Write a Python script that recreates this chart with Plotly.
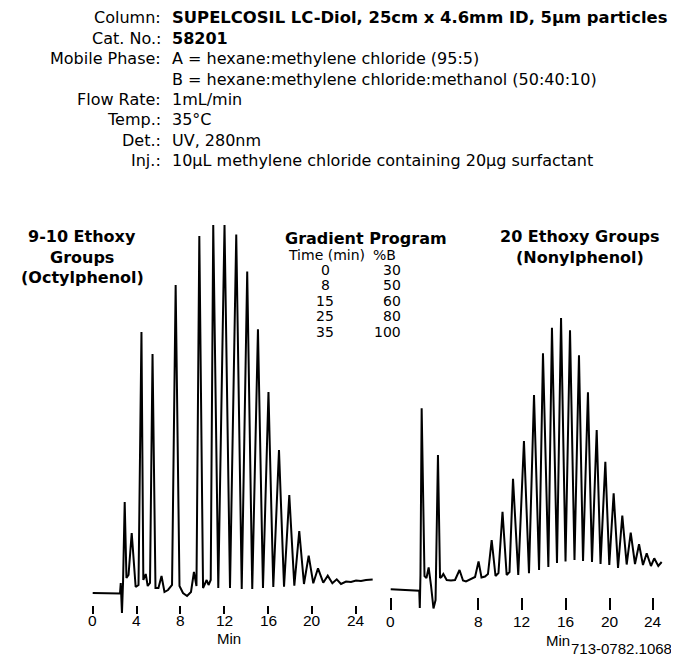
import plotly.graph_objects as go

# ---------------- data ----------------
# Left chromatogram: 9-10 ethoxy groups (octylphenol ethoxylate)
left_time = [0, 1.12, 2.45, 2.49, 2.56, 2.67, 2.77, 2.92, 3.08, 3.27, 3.56, 3.92, 4.18, 4.45,
             4.62, 4.84, 5.02, 5.23, 5.46, 5.73, 6.00, 6.28, 6.55, 6.87, 7.24, 7.57, 7.92,
             8.24, 8.61, 8.97, 9.24, 9.47, 9.73, 10.07, 10.40, 10.57, 10.77, 11.00, 11.46,
             12.03, 12.53, 13.10, 13.60, 14.10, 14.56, 15.08, 15.54, 16.04, 16.48, 17.00,
             17.46, 17.94, 18.40, 18.85, 19.28, 19.71, 20.13, 20.56, 21.04, 21.45, 21.87,
             22.27, 22.66, 23.12, 23.57, 24.03, 24.48, 24.94, 25.55]
left_signal = [0, -0.5, -1, -0.5, 10, -20, 11, 91, 15, 18, 60, 6, 8, 261,
               13, 19, 7, 10, 239, 5, 5, 17, 1, 3, 8, 308, 7,
               0, -3, 1, 21, 7, 357, 5, 13, 8, 13, 368, 5,
               368, 5, 358.5, 4, 321.5, 4, 263.7, 5, 201, 6, 143,
               6.3, 98, 7.3, 62, 9, 37.3, 9.7, 24.7, 10.3, 17.3, 9.7,
               13.7, 9, 11.5, 11, 12.5, 12, 13, 13.5]

# Right chromatogram: 20 ethoxy groups (nonylphenol ethoxylate)
right_time = [0, 0.85, 1.76, 2.61, 2.66, 2.72, 2.83, 3.09, 3.27, 3.47, 3.68, 3.91, 4.10, 4.32,
              4.51, 4.64, 4.81, 5.12, 5.51, 5.88, 6.29, 6.61, 6.88, 7.25, 7.71, 8.03, 8.30,
              8.62, 8.89, 9.23, 9.58, 9.85, 10.22, 10.60, 10.86, 11.18, 11.66, 12.18, 12.64,
              13.10, 13.56, 13.92, 14.41, 14.74, 15.20, 15.57, 15.98, 16.39, 16.80, 17.21,
              17.58, 18.03, 18.40, 18.83, 19.18, 19.62, 19.98, 20.38, 20.78, 21.17, 21.57,
              21.94, 22.33, 22.70, 23.06, 23.40, 23.79, 24.09, 24.46, 24.77]
right_signal = [0.7, 0, -0.5, -0.7, -18, 15, 181.7, 14, 12, 22.5, 5, -18.5, -10, 135,
                12, 13, 16, 10, 9.5, 10, 20, 9.5, 8.5, 10.5, 13, 28.5, 12.5,
                13.5, 16, 50, 14, 17, 78.3, 15, 18, 111.3, 15, 149, 16.7,
                195, 20, 236.7, 23, 262.3, 27, 272, 28.5, 259.7, 30, 234.7,
                29, 197.7, 28, 160, 26, 128.3, 25, 96.7, 22, 74.3, 25.5,
                57.3, 26, 45.7, 25, 36.7, 24, 31.7, 24, 28]

left_ticks = [0, 4, 8, 12, 16, 20, 24]
right_ticks = [0, 8, 12, 16, 20, 24]

header_labels = ["Column:", "Cat. No.:", "Mobile Phase:", "", "Flow Rate:", "Temp.:", "Det.:", "Inj.:"]
header_values = ["<b>SUPELCOSIL LC-Diol, 25cm x 4.6mm ID, 5µm particles</b>", "<b>58201</b>",
                 "A = hexane:methylene chloride (95:5)",
                 "B = hexane:methylene chloride:methanol (50:40:10)",
                 "1mL/min", "35°C", "UV, 280nm",
                 "10µL methylene chloride containing 20µg surfactant"]

grad_time = ["0", "8", "15", "25", "35"]
grad_pctB = ["30", "50", "60", "80", "100"]

# ---------------- layout helpers (page-pixel geometry) ----------------
# the page body has an 8px margin, so the figure starts 8px in from the corner
PAGE_W, PAGE_H, M = 679, 662, 8
W, H = PAGE_W - M, PAGE_H - M
def px(x):
    return (x - M) / W
def py(y):
    return 1 - (y - M) / H

FONT = "DejaVu Sans"
TICKFONT = "Liberation Sans, Arial"

fig = go.Figure()
fig.add_trace(go.Scatter(x=left_time, y=left_signal, mode="lines",
                         line=dict(color="black", width=2), xaxis="x", yaxis="y",
                         hoverinfo="skip", showlegend=False))
fig.add_trace(go.Scatter(x=right_time, y=right_signal, mode="lines",
                         line=dict(color="black", width=2), xaxis="x2", yaxis="y2",
                         hoverinfo="skip", showlegend=False))

lx0, lk = 92.7, 10.958   # left panel: page px of 0 min, px per min
rx0, rk = 390.7, 10.94   # right panel
ydom = [py(622), py(215)]

axis_common = dict(showgrid=False, zeroline=False, showline=False, ticks="outside",
                   tickcolor="black", tickwidth=1.5, anchor="free", showticklabels=False)

fig.update_layout(
    width=W, height=H, margin=dict(l=0, r=0, t=0, b=0),
    paper_bgcolor="white", plot_bgcolor="white",
    xaxis=dict(domain=[px(80), px(380)], range=[(80 - lx0) / lk, (380 - lx0) / lk],
               tickvals=left_ticks, ticklen=8, position=py(605), **axis_common),
    yaxis=dict(domain=ydom, range=[593 - 622, 593 - 215], visible=False),
    xaxis2=dict(domain=[px(385), px(675)], range=[(385 - rx0) / rk, (675 - rx0) / rk],
                tickvals=right_ticks, ticklen=12, position=py(597), **axis_common),
    yaxis2=dict(domain=ydom, range=[590 - 622, 590 - 215], visible=False, anchor="x2"),
)

ann = []
def text(x, y, s, size=16, xanchor="center", family=FONT, bold=False, xref="paper"):
    if bold:
        s = "<b>" + s + "</b>"
    ann.append(dict(x=px(x) if xref == "paper" else x, y=py(y), xref=xref, yref="paper",
                    text=s, showarrow=False, xanchor=xanchor, yanchor="middle",
                    font=dict(family=family, size=size, color="black")))

header_y = [18, 38.5, 58.5, 79, 99.5, 120, 140, 160.5]
for i, (lab, val, yy) in enumerate(zip(header_labels, header_values, header_y)):
    if lab:
        text(163, yy, lab, xanchor="right")
    text(170, yy, val, xanchor="left", size=16.4 if i == 0 else 16)

# panel titles
text(82, 237, "9-10 Ethoxy", bold=True)
text(82, 257, "Groups", bold=True)
text(82, 277, "(Octylphenol)", bold=True)
text(580, 237, "20 Ethoxy Groups", bold=True)
text(580, 257, "(Nonylphenol)", bold=True)

# gradient program
text(366, 238, "Gradient Program", bold=True)
text(326, 255, "Time (min)", size=14)
text(384, 255, "%B", size=14)
for i, (t, b) in enumerate(zip(grad_time, grad_pctB)):
    yy = 270 + i * 15.4
    text(325, yy, t, size=14)
    text(403, yy, b, size=14, xanchor="right")

# tick labels
for v in left_ticks:
    text(v, 620, str(v), size=15.5, family=TICKFONT, xref="x")
for v in right_ticks:
    text(v, 621, str(v), size=15.5, family=TICKFONT, xref="x2")

text(229, 638, "Min", size=15, family=TICKFONT)
text(558, 640, "Min", size=15, family=TICKFONT)
text(569, 648, "713-0782.1068", size=15, family=TICKFONT, xanchor="left")

fig.update_layout(annotations=ann)
fig.write_html("out.html")
